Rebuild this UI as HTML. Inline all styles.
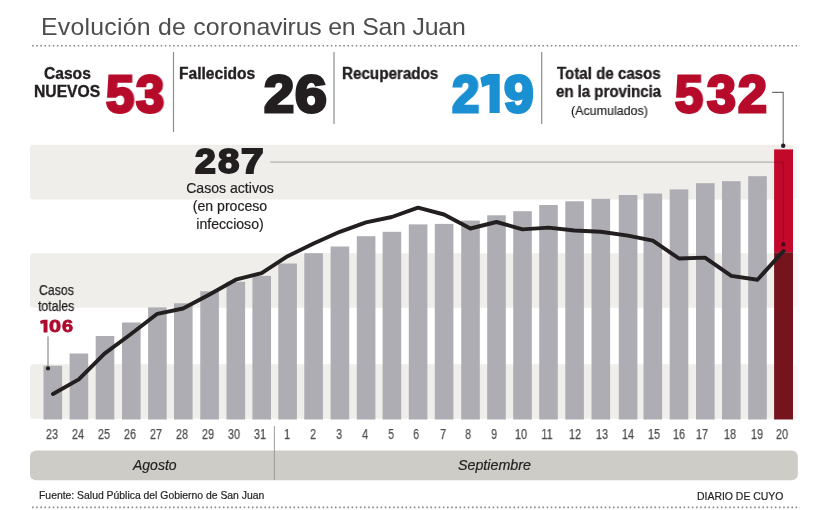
<!DOCTYPE html>
<html lang="es"><head><meta charset="utf-8"><title>Evolución de coronavirus en San Juan</title>
<style>
html,body{margin:0;padding:0;background:#fff;}
body{width:814px;height:510px;position:relative;overflow:hidden;font-family:"Liberation Sans", sans-serif;}
.t{position:absolute;white-space:nowrap;line-height:1;font-family:"Liberation Sans", sans-serif;will-change:transform;}
</style></head><body>
<svg width="814" height="510" viewBox="0 0 814 510" style="position:absolute;left:0;top:0">
<line x1="32" y1="45.8" x2="800" y2="45.8" stroke="#8a8a8a" stroke-width="1.6" stroke-dasharray="1.6 2.55"/>
<line x1="32" y1="507.4" x2="800" y2="507.4" stroke="#8a8a8a" stroke-width="1.6" stroke-dasharray="1.6 2.55"/>
<line x1="173.5" y1="52" x2="173.5" y2="132" stroke="#8c8c8c" stroke-width="1.2"/>
<line x1="334" y1="52" x2="334" y2="124" stroke="#8c8c8c" stroke-width="1.2"/>
<line x1="541.7" y1="52" x2="541.7" y2="124" stroke="#8c8c8c" stroke-width="1.2"/>
<rect x="30" y="144.8" width="767.5" height="54.6" rx="3.5" fill="#efeeea"/>
<rect x="30" y="253.3" width="767.5" height="54.5" rx="3.5" fill="#efeeea"/>
<rect x="30" y="364.2" width="767.5" height="54.6" rx="3.5" fill="#efeeea"/>
<rect x="43.5" y="365.7" width="18.6" height="53.8" fill="#adadb3"/>
<rect x="69.6" y="353.5" width="18.6" height="66.0" fill="#adadb3"/>
<rect x="95.7" y="336" width="18.6" height="83.5" fill="#adadb3"/>
<rect x="122" y="322.5" width="18.6" height="97.0" fill="#adadb3"/>
<rect x="148.1" y="307.4" width="18.6" height="112.1" fill="#adadb3"/>
<rect x="174" y="303.3" width="18.6" height="116.2" fill="#adadb3"/>
<rect x="200.3" y="291.3" width="18.6" height="128.2" fill="#adadb3"/>
<rect x="226.5" y="281.8" width="18.6" height="137.7" fill="#adadb3"/>
<rect x="252.4" y="275.9" width="18.6" height="143.6" fill="#adadb3"/>
<rect x="278.3" y="263.5" width="18.6" height="156.0" fill="#adadb3"/>
<rect x="304.3" y="253.2" width="18.6" height="166.3" fill="#adadb3"/>
<rect x="330.6" y="246.5" width="18.6" height="173.0" fill="#adadb3"/>
<rect x="356.8" y="236.2" width="18.6" height="183.3" fill="#adadb3"/>
<rect x="382.6" y="231.8" width="18.6" height="187.7" fill="#adadb3"/>
<rect x="408.8" y="224.4" width="18.6" height="195.1" fill="#adadb3"/>
<rect x="434.8" y="223.9" width="18.6" height="195.6" fill="#adadb3"/>
<rect x="461.2" y="220.6" width="18.6" height="198.9" fill="#adadb3"/>
<rect x="487.2" y="215.3" width="18.6" height="204.2" fill="#adadb3"/>
<rect x="513.2" y="211.2" width="18.6" height="208.3" fill="#adadb3"/>
<rect x="539.2" y="205" width="18.6" height="214.5" fill="#adadb3"/>
<rect x="565.3" y="201.3" width="18.6" height="218.2" fill="#adadb3"/>
<rect x="591.5" y="198.8" width="18.6" height="220.7" fill="#adadb3"/>
<rect x="618.8" y="195" width="18.6" height="224.5" fill="#adadb3"/>
<rect x="643.5" y="193.5" width="18.6" height="226.0" fill="#adadb3"/>
<rect x="669.7" y="189.4" width="18.6" height="230.1" fill="#adadb3"/>
<rect x="696" y="183.2" width="18.6" height="236.3" fill="#adadb3"/>
<rect x="722" y="181.2" width="18.6" height="238.3" fill="#adadb3"/>
<rect x="748.2" y="176.2" width="18.6" height="243.3" fill="#adadb3"/>
<rect x="793" y="140" width="6" height="285" fill="#ffffff" opacity="0.5"/>
<rect x="774.1" y="149.4" width="18.9" height="102.8" fill="#c2092b"/>
<rect x="774.1" y="252.2" width="18.9" height="167.3" fill="#76141e"/>
<polyline points="270.3,162.2 774.2,162.2" fill="none" stroke="#b3b2ad" stroke-width="1.2"/>
<polyline points="774.1,162.2 783.3,162.2 783.3,244.4" fill="none" stroke="#9a0a24" stroke-width="1.1"/>
<circle cx="783.3" cy="244.4" r="2.2" fill="#4a0d16"/>
<polyline points="772.2,92.4 783.2,92.4 783.2,145.7" fill="none" stroke="#6b6b6b" stroke-width="1.1"/>
<circle cx="783.2" cy="145.7" r="2.2" fill="#231f20"/>
<line x1="48" y1="336.4" x2="48" y2="368.4" stroke="#777777" stroke-width="1"/>
<circle cx="48" cy="368.4" r="2.1" fill="#231f20"/>
<polyline points="53,394 78.8,379.4 104.5,353.6 131,334 157.3,313.8 183,308.5 209.5,294.5 235.7,279.7 261.6,273.2 287.6,256.2 313.6,243.5 339.8,231.8 366,222.4 391.8,217 418,207.6 444,214.5 470.4,228.5 496.5,222 522.5,229.4 548.5,227.6 574.5,230.5 600.7,231.8 628,235.6 652.8,240.6 679,258.5 705,257.6 731.3,275.9 757.5,279.7 783.5,251" fill="none" stroke="#231f20" stroke-width="3.9" stroke-linejoin="round" stroke-linecap="round"/>
<rect x="30" y="450.5" width="767.8" height="29.7" rx="6" fill="#cdccc6"/>
<line x1="274.4" y1="426" x2="274.4" y2="480.2" stroke="#999999" stroke-width="0.95"/>
</svg>
<div class="t" style="left:41.1px;top:14.55px;font-size:23.8px;color:#4d4d4f;transform:scaleX(1.044);transform-origin:0 50%;"><span><span style="letter-spacing:0.22px">Evolución de coron</span><span style="letter-spacing:-0.19px">avirus en San Juan</span></span></div>
<div class="t" style="left:43.7px;top:65.79px;font-size:15.6px;color:#231f20;font-weight:bold;-webkit-text-stroke:0.35px #231f20;"><span>Casos</span></div>
<div class="t" style="left:33.6px;top:84.21px;font-size:15.7px;color:#231f20;font-weight:bold;-webkit-text-stroke:0.35px #231f20;"><span>NUEVOS</span></div>
<div class="num">
<div class="t" style="left:105.9px;top:69.15px;font-size:51.8px;color:#b60b2b;font-weight:bold;transform:scaleX(0.9811);transform-origin:0 50%;-webkit-text-stroke:3px #b60b2b;"><span>5</span></div>
<div class="t" style="left:136.3px;top:69.15px;font-size:51.8px;color:#b60b2b;font-weight:bold;transform:scaleX(0.9811);transform-origin:0 50%;-webkit-text-stroke:3px #b60b2b;"><span>3</span></div>
</div>
<div class="t" style="left:179.3px;top:65.59px;font-size:15.6px;color:#231f20;font-weight:bold;-webkit-text-stroke:0.35px #231f20;"><span>Fallecidos</span></div>
<div class="num">
<div class="t" style="left:263.67px;top:69.15px;font-size:51.8px;color:#231f20;font-weight:bold;transform:scaleX(1.046);transform-origin:0 50%;-webkit-text-stroke:3px #231f20;"><span>2</span></div>
<div class="t" style="left:294.84px;top:69.15px;font-size:51.8px;color:#231f20;font-weight:bold;transform:scaleX(1.1028);transform-origin:0 50%;-webkit-text-stroke:3px #231f20;"><span>6</span></div>
</div>
<div class="t" style="left:341.9px;top:65.59px;font-size:15.6px;color:#231f20;font-weight:bold;transform:scaleX(0.975);transform-origin:0 50%;-webkit-text-stroke:0.35px #231f20;"><span>Recuperados</span></div>
<div class="num">
<div class="t" style="left:451.5px;top:69.15px;font-size:51.8px;color:#1a8fd1;font-weight:bold;transform:scaleX(0.9493);transform-origin:0 50%;-webkit-text-stroke:3px #1a8fd1;"><span>2</span></div>
<div class="t" style="left:475.31px;top:67.03px;font-size:54.19px;color:transparent;font-weight:bold;"><span>1</span></div>
<div class="t" style="left:503.98px;top:69.15px;font-size:51.8px;color:#1a8fd1;font-weight:bold;transform:scaleX(1.0295);transform-origin:0 50%;-webkit-text-stroke:3px #1a8fd1;"><span>9</span></div>
</div>
<div class="t" style="left:556.9px;top:65.79px;font-size:15.6px;color:#231f20;font-weight:bold;transform:scaleX(0.967);transform-origin:0 50%;-webkit-text-stroke:0.35px #231f20;"><span>Total de casos</span></div>
<div class="t" style="left:555.8px;top:83.99px;font-size:15.6px;color:#231f20;font-weight:bold;transform:scaleX(0.962);transform-origin:0 50%;-webkit-text-stroke:0.35px #231f20;"><span>en la provincia</span></div>
<div class="t" style="left:570.8px;top:104.68px;font-size:12.9px;color:#231f20;transform:scaleX(0.967);transform-origin:0 50%;-webkit-text-stroke:0.2px #231f20;"><span>(Acumulados)</span></div>
<div class="num">
<div class="t" style="left:674.9px;top:69.15px;font-size:51.8px;color:#b60b2b;font-weight:bold;transform:scaleX(0.9741);transform-origin:0 50%;-webkit-text-stroke:3px #b60b2b;"><span>5</span></div>
<div class="t" style="left:707.01px;top:69.15px;font-size:51.8px;color:#b60b2b;font-weight:bold;transform:scaleX(1.0019);transform-origin:0 50%;-webkit-text-stroke:3px #b60b2b;"><span>3</span></div>
<div class="t" style="left:738.09px;top:69.15px;font-size:51.8px;color:#b60b2b;font-weight:bold;transform:scaleX(1.003);transform-origin:0 50%;-webkit-text-stroke:3px #b60b2b;"><span>2</span></div>
</div>
<div class="num">
<div class="t" style="left:195.24px;top:143.70px;font-size:35.8px;color:#231f20;font-weight:bold;transform:scaleX(1.0458);transform-origin:0 50%;-webkit-text-stroke:2px #231f20;"><span>2</span></div>
<div class="t" style="left:217.74px;top:143.70px;font-size:35.8px;color:#231f20;font-weight:bold;transform:scaleX(1.0738);transform-origin:0 50%;-webkit-text-stroke:2px #231f20;"><span>8</span></div>
<div class="t" style="left:240.59px;top:143.70px;font-size:35.8px;color:#231f20;font-weight:bold;transform:scaleX(1.1336);transform-origin:0 50%;-webkit-text-stroke:2px #231f20;"><span>7</span></div>
</div>
<div class="t" style="left:79.80000000000001px;width:300px;text-align:center;top:181.06px;font-size:14.1px;color:#231f20;-webkit-text-stroke:0.2px #231f20;"><span>Casos activos</span></div>
<div class="t" style="left:79.80000000000001px;width:300px;text-align:center;top:199.26px;font-size:14.1px;color:#231f20;-webkit-text-stroke:0.2px #231f20;"><span>(en proceso</span></div>
<div class="t" style="left:80.1px;width:300px;text-align:center;top:216.76px;font-size:14.1px;color:#231f20;-webkit-text-stroke:0.2px #231f20;"><span>infeccioso)</span></div>
<div class="t" style="left:38.7px;top:284.03px;font-size:13.9px;color:#231f20;transform:scaleX(0.885);transform-origin:0 50%;-webkit-text-stroke:0.25px #231f20;"><span>Casos</span></div>
<div class="t" style="left:38.3px;top:299.73px;font-size:13.9px;color:#231f20;transform:scaleX(0.885);transform-origin:0 50%;-webkit-text-stroke:0.25px #231f20;"><span>totales</span></div>
<div class="num">
<div class="t" style="left:39.58px;top:317.50px;font-size:17.6px;color:transparent;font-weight:bold;"><span>1</span></div>
<div class="t" style="left:48.84px;top:317.64px;font-size:17.2px;color:#ad0c2e;font-weight:bold;transform:scaleX(1.2598);transform-origin:0 50%;-webkit-text-stroke:0.8px #ad0c2e;"><span>0</span></div>
<div class="t" style="left:61.53px;top:317.64px;font-size:17.2px;color:#ad0c2e;font-weight:bold;transform:scaleX(1.1529);transform-origin:0 50%;-webkit-text-stroke:0.8px #ad0c2e;"><span>6</span></div>
</div>
<div class="t" style="left:-98.5px;width:300px;text-align:center;top:427.53px;font-size:13.9px;color:#4f4f51;transform:scaleX(0.78);transform-origin:50% 50%;-webkit-text-stroke:0.25px #4f4f51;"><span>23</span></div>
<div class="t" style="left:-72.5px;width:300px;text-align:center;top:427.53px;font-size:13.9px;color:#4f4f51;transform:scaleX(0.78);transform-origin:50% 50%;-webkit-text-stroke:0.25px #4f4f51;"><span>24</span></div>
<div class="t" style="left:-46.400000000000006px;width:300px;text-align:center;top:427.53px;font-size:13.9px;color:#4f4f51;transform:scaleX(0.78);transform-origin:50% 50%;-webkit-text-stroke:0.25px #4f4f51;"><span>25</span></div>
<div class="t" style="left:-20.19999999999999px;width:300px;text-align:center;top:427.53px;font-size:13.9px;color:#4f4f51;transform:scaleX(0.78);transform-origin:50% 50%;-webkit-text-stroke:0.25px #4f4f51;"><span>26</span></div>
<div class="t" style="left:6px;width:300px;text-align:center;top:427.53px;font-size:13.9px;color:#4f4f51;transform:scaleX(0.78);transform-origin:50% 50%;-webkit-text-stroke:0.25px #4f4f51;"><span>27</span></div>
<div class="t" style="left:32px;width:300px;text-align:center;top:427.53px;font-size:13.9px;color:#4f4f51;transform:scaleX(0.78);transform-origin:50% 50%;-webkit-text-stroke:0.25px #4f4f51;"><span>28</span></div>
<div class="t" style="left:58.30000000000001px;width:300px;text-align:center;top:427.53px;font-size:13.9px;color:#4f4f51;transform:scaleX(0.78);transform-origin:50% 50%;-webkit-text-stroke:0.25px #4f4f51;"><span>29</span></div>
<div class="t" style="left:84.30000000000001px;width:300px;text-align:center;top:427.53px;font-size:13.9px;color:#4f4f51;transform:scaleX(0.78);transform-origin:50% 50%;-webkit-text-stroke:0.25px #4f4f51;"><span>30</span></div>
<div class="t" style="left:110.30000000000001px;width:300px;text-align:center;top:427.53px;font-size:13.9px;color:#4f4f51;transform:scaleX(0.78);transform-origin:50% 50%;-webkit-text-stroke:0.25px #4f4f51;"><span>31</span></div>
<div class="t" style="left:136.5px;width:300px;text-align:center;top:427.53px;font-size:13.9px;color:#4f4f51;transform:scaleX(0.78);transform-origin:50% 50%;-webkit-text-stroke:0.25px #4f4f51;"><span>1</span></div>
<div class="t" style="left:162.5px;width:300px;text-align:center;top:427.53px;font-size:13.9px;color:#4f4f51;transform:scaleX(0.78);transform-origin:50% 50%;-webkit-text-stroke:0.25px #4f4f51;"><span>2</span></div>
<div class="t" style="left:188.8px;width:300px;text-align:center;top:427.53px;font-size:13.9px;color:#4f4f51;transform:scaleX(0.78);transform-origin:50% 50%;-webkit-text-stroke:0.25px #4f4f51;"><span>3</span></div>
<div class="t" style="left:215px;width:300px;text-align:center;top:427.53px;font-size:13.9px;color:#4f4f51;transform:scaleX(0.78);transform-origin:50% 50%;-webkit-text-stroke:0.25px #4f4f51;"><span>4</span></div>
<div class="t" style="left:241px;width:300px;text-align:center;top:427.53px;font-size:13.9px;color:#4f4f51;transform:scaleX(0.78);transform-origin:50% 50%;-webkit-text-stroke:0.25px #4f4f51;"><span>5</span></div>
<div class="t" style="left:266.3px;width:300px;text-align:center;top:427.53px;font-size:13.9px;color:#4f4f51;transform:scaleX(0.78);transform-origin:50% 50%;-webkit-text-stroke:0.25px #4f4f51;"><span>6</span></div>
<div class="t" style="left:293px;width:300px;text-align:center;top:427.53px;font-size:13.9px;color:#4f4f51;transform:scaleX(0.78);transform-origin:50% 50%;-webkit-text-stroke:0.25px #4f4f51;"><span>7</span></div>
<div class="t" style="left:318.2px;width:300px;text-align:center;top:427.53px;font-size:13.9px;color:#4f4f51;transform:scaleX(0.78);transform-origin:50% 50%;-webkit-text-stroke:0.25px #4f4f51;"><span>8</span></div>
<div class="t" style="left:343.8px;width:300px;text-align:center;top:427.53px;font-size:13.9px;color:#4f4f51;transform:scaleX(0.78);transform-origin:50% 50%;-webkit-text-stroke:0.25px #4f4f51;"><span>9</span></div>
<div class="t" style="left:370.70000000000005px;width:300px;text-align:center;top:427.53px;font-size:13.9px;color:#4f4f51;transform:scaleX(0.78);transform-origin:50% 50%;-webkit-text-stroke:0.25px #4f4f51;"><span>10</span></div>
<div class="t" style="left:397.20000000000005px;width:300px;text-align:center;top:427.53px;font-size:13.9px;color:#4f4f51;transform:scaleX(0.78);transform-origin:50% 50%;-webkit-text-stroke:0.25px #4f4f51;"><span>11</span></div>
<div class="t" style="left:425px;width:300px;text-align:center;top:427.53px;font-size:13.9px;color:#4f4f51;transform:scaleX(0.78);transform-origin:50% 50%;-webkit-text-stroke:0.25px #4f4f51;"><span>12</span></div>
<div class="t" style="left:451.79999999999995px;width:300px;text-align:center;top:427.53px;font-size:13.9px;color:#4f4f51;transform:scaleX(0.78);transform-origin:50% 50%;-webkit-text-stroke:0.25px #4f4f51;"><span>13</span></div>
<div class="t" style="left:478px;width:300px;text-align:center;top:427.53px;font-size:13.9px;color:#4f4f51;transform:scaleX(0.78);transform-origin:50% 50%;-webkit-text-stroke:0.25px #4f4f51;"><span>14</span></div>
<div class="t" style="left:503.79999999999995px;width:300px;text-align:center;top:427.53px;font-size:13.9px;color:#4f4f51;transform:scaleX(0.78);transform-origin:50% 50%;-webkit-text-stroke:0.25px #4f4f51;"><span>15</span></div>
<div class="t" style="left:528.6px;width:300px;text-align:center;top:427.53px;font-size:13.9px;color:#4f4f51;transform:scaleX(0.78);transform-origin:50% 50%;-webkit-text-stroke:0.25px #4f4f51;"><span>16</span></div>
<div class="t" style="left:551.7px;width:300px;text-align:center;top:427.53px;font-size:13.9px;color:#4f4f51;transform:scaleX(0.78);transform-origin:50% 50%;-webkit-text-stroke:0.25px #4f4f51;"><span>17</span></div>
<div class="t" style="left:579.5px;width:300px;text-align:center;top:427.53px;font-size:13.9px;color:#4f4f51;transform:scaleX(0.78);transform-origin:50% 50%;-webkit-text-stroke:0.25px #4f4f51;"><span>18</span></div>
<div class="t" style="left:606.5px;width:300px;text-align:center;top:427.53px;font-size:13.9px;color:#4f4f51;transform:scaleX(0.78);transform-origin:50% 50%;-webkit-text-stroke:0.25px #4f4f51;"><span>19</span></div>
<div class="t" style="left:631.6px;width:300px;text-align:center;top:427.53px;font-size:13.9px;color:#4f4f51;transform:scaleX(0.78);transform-origin:50% 50%;-webkit-text-stroke:0.25px #4f4f51;"><span>20</span></div>
<div class="t" style="left:132.5px;top:458.35px;font-size:14px;color:#231f20;font-style:italic;-webkit-text-stroke:0.2px #231f20;"><span>Agosto</span></div>
<div class="t" style="left:457.6px;top:458.14px;font-size:14.25px;color:#231f20;font-style:italic;-webkit-text-stroke:0.2px #231f20;"><span>Septiembre</span></div>
<div class="t" style="left:38.8px;top:491.20px;font-size:10.4px;color:#231f20;-webkit-text-stroke:0.2px #231f20;"><span>Fuente: Salud Pública del Gobierno de San Juan</span></div>
<div class="t" style="left:697.4px;top:491.65px;font-size:10.45px;color:#231f20;-webkit-text-stroke:0.2px #231f20;"><span>DIARIO DE CUYO</span></div>

<svg width="814" height="510" viewBox="0 0 814 510" style="position:absolute;left:0;top:0"><polygon points="499.70,74.10 488.45,74.10 480.30,77.79 482.24,87.18 489.50,84.58 489.50,112.90 499.70,112.90" fill="#1a8fd1"/><polygon points="47.50,319.80 43.15,319.80 40.00,321.00 40.75,324.05 43.55,323.20 43.55,332.40 47.50,332.40" fill="#ad0c2e"/></svg>
</body></html>
